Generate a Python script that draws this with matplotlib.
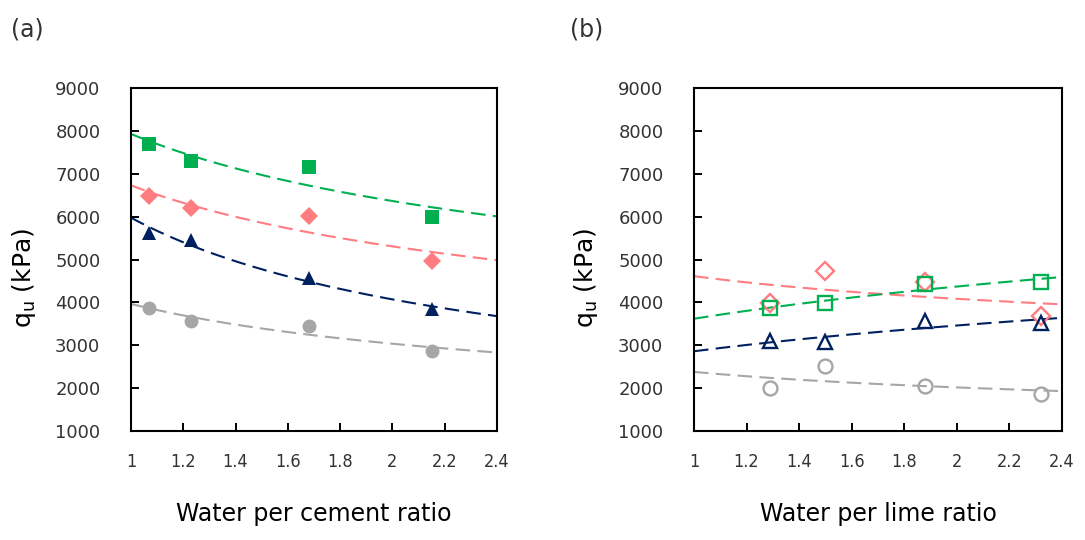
import numpy as np
import matplotlib
matplotlib.use("Agg")
import matplotlib.pyplot as plt

# (a) cement mixes
wc_ratio = [1.07, 1.23, 1.68, 2.15]
cement_green = [7700, 7300, 7150, 6000]
cement_pink = [6480, 6200, 6020, 4970]
cement_navy = [5620, 5450, 4560, 3850]
cement_grey = [3870, 3560, 3440, 2860]

# (b) lime mixes
wl_ratio = [1.29, 1.50, 1.88, 2.32]
lime_green = [3880, 3980, 4430, 4480]
lime_pink = [3980, 4740, 4480, 3680]
lime_navy = [3100, 3080, 3570, 3530]
lime_grey = [2000, 2510, 2050, 1870]

x_ticks = [1, 1.2, 1.4, 1.6, 1.8, 2, 2.2, 2.4]
x_tick_labels = ["1", "1.2", "1.4", "1.6", "1.8", "2", "2.2", "2.4"]
y_ticks = [1000, 2000, 3000, 4000, 5000, 6000, 7000, 8000, 9000]

GREEN = "#00B050"
PINK = "#FF7C80"
NAVY = "#002060"
GREY = "#A6A6A6"
TEXT = "#333333"

marker_size = {"s": 10, "D": 9, "^": 10, "o": 10}


def power_fit(x, y):
    # Excel style power trendline: y = a * x^b
    b, ln_a = np.polyfit(np.log(x), np.log(y), 1)
    return np.exp(ln_a), b


def draw_series(ax, x, y, color, marker, filled):
    a, b = power_fit(x, y)
    xs = np.linspace(1, 2.4, 200)
    ax.plot(xs, a * xs ** b, color=color, lw=1.5, ls=(0, (7, 3.5)), zorder=2)
    ms = marker_size[marker]
    if filled:
        ax.plot(x, y, ls="none", marker=marker, ms=ms, color=color,
                markeredgewidth=0, zorder=3)
    else:
        ax.plot(x, y, ls="none", marker=marker, ms=ms, markerfacecolor="none",
                markeredgecolor=color, markeredgewidth=1.7, zorder=3)


def style_axes(ax, xlabel):
    ax.set_xlim(1, 2.4)
    ax.set_ylim(1000, 9000)
    ax.set_xticks(x_ticks)
    ax.set_xticklabels(x_tick_labels, fontstretch="condensed", fontsize=13,
                       color=TEXT)
    ax.set_yticks(y_ticks)
    ax.set_yticklabels([str(v) for v in y_ticks], fontsize=13, color=TEXT)
    ax.tick_params(axis="both", direction="in", length=6, width=1.4)
    ax.tick_params(axis="y", pad=22)
    ax.tick_params(axis="x", pad=16)
    for sp in ax.spines.values():
        sp.set_linewidth(1.5)
    ax.set_xlabel(xlabel, fontsize=17, labelpad=22)
    ax.set_ylabel(r"q$_\mathregular{u}$ (kPa)", fontsize=18)
    ax.yaxis.set_label_coords(-0.255, 0.445)


fig = plt.figure(figsize=(10.85, 5.4), dpi=100)
ax1 = fig.add_axes([0.1207, 0.2019, 0.3373, 0.635])
ax2 = fig.add_axes([0.6396, 0.2019, 0.3392, 0.635])

draw_series(ax1, wc_ratio, cement_green, GREEN, "s", True)
draw_series(ax1, wc_ratio, cement_pink, PINK, "D", True)
draw_series(ax1, wc_ratio, cement_navy, NAVY, "^", True)
draw_series(ax1, wc_ratio, cement_grey, GREY, "o", True)
style_axes(ax1, "Water per cement ratio")

draw_series(ax2, wl_ratio, lime_pink, PINK, "D", False)
draw_series(ax2, wl_ratio, lime_green, GREEN, "s", False)
draw_series(ax2, wl_ratio, lime_navy, NAVY, "^", False)
draw_series(ax2, wl_ratio, lime_grey, GREY, "o", False)
style_axes(ax2, "Water per lime ratio")

fig.text(0.010, 0.945, "(a)", fontsize=17, color=TEXT, va="center")
fig.text(0.525, 0.945, "(b)", fontsize=17, color=TEXT, va="center")

fig.savefig("out.png", dpi=100)
